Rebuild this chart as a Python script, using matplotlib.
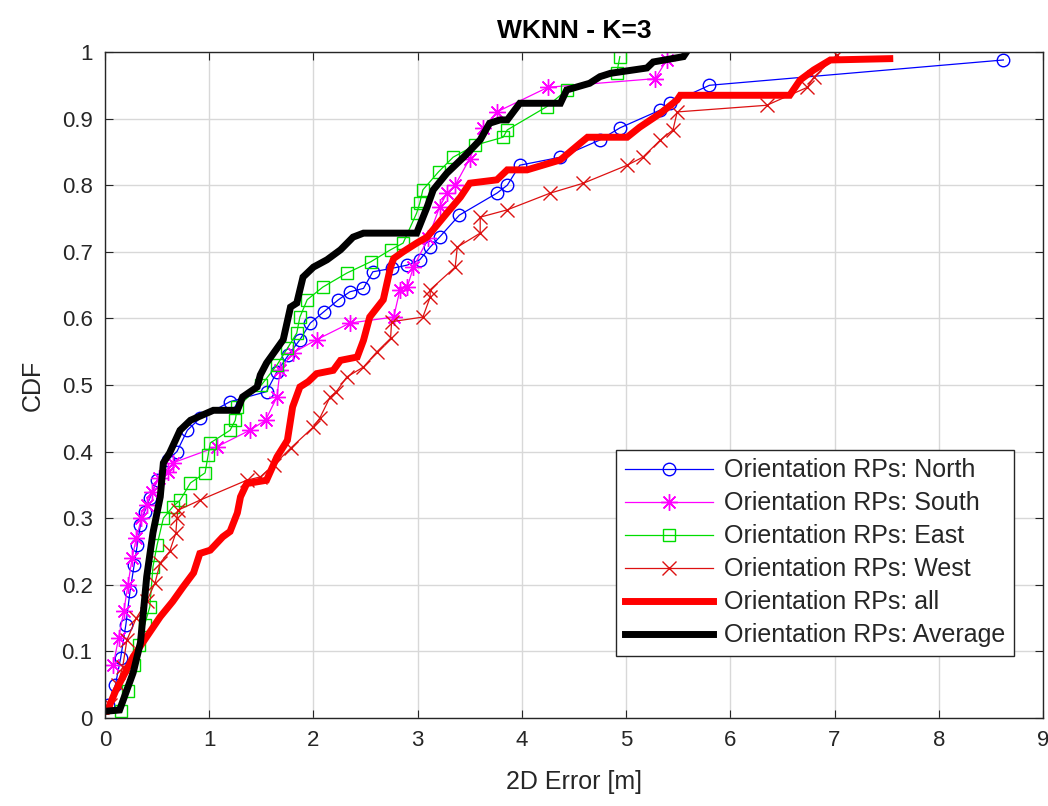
import matplotlib.pyplot as plt

plt.rcParams["font.family"] = ["Liberation Sans", "DejaVu Sans"]

# CDF points for each orientation (2D error in metres, cumulative probability)
north_x = [0.03, 0.10, 0.15, 0.20, 0.24, 0.28, 0.31, 0.34, 0.38, 0.43, 0.50, 0.60, 0.69, 0.79, 0.91,
           1.20, 1.55, 1.65, 1.76, 1.87, 1.97, 2.10, 2.24, 2.35, 2.48, 2.57, 2.75, 2.90, 3.02, 3.12,
           3.21, 3.40, 3.76, 3.86, 3.98, 4.37, 4.75, 4.94, 5.33, 5.42, 5.80, 8.62]
north_y = [0.02, 0.05, 0.09, 0.14, 0.19, 0.23, 0.26, 0.29, 0.31, 0.33, 0.357, 0.387, 0.40, 0.432, 0.45,
           0.475, 0.49, 0.52, 0.545, 0.568, 0.593, 0.61, 0.628, 0.64, 0.645, 0.67, 0.675, 0.68, 0.688, 0.707,
           0.722, 0.755, 0.788, 0.80, 0.83, 0.842, 0.868, 0.886, 0.913, 0.923, 0.95, 0.988]

south_x = [0.08, 0.13, 0.18, 0.22, 0.26, 0.30, 0.35, 0.40, 0.45, 0.52, 0.60, 0.65, 1.07, 1.39, 1.54,
           1.65, 1.68, 1.80, 2.03, 2.35, 2.77, 2.83, 2.90, 2.96, 3.10, 3.21, 3.28, 3.36, 3.50, 3.63,
           3.76, 4.25, 5.28, 5.39]
south_y = [0.08, 0.12, 0.16, 0.20, 0.24, 0.27, 0.30, 0.32, 0.34, 0.36, 0.37, 0.383, 0.407, 0.432, 0.447,
           0.482, 0.523, 0.548, 0.568, 0.593, 0.602, 0.643, 0.647, 0.677, 0.72, 0.767, 0.788, 0.80, 0.84, 0.886,
           0.91, 0.947, 0.96, 0.988]

east_x = [0.15, 0.22, 0.28, 0.33, 0.38, 0.43, 0.46, 0.50, 0.56, 0.65, 0.72, 0.82, 0.96, 0.99, 1.01,
          1.20, 1.25, 1.27, 1.50, 1.65, 1.75, 1.84, 1.87, 1.94, 2.09, 2.32, 2.55, 2.74, 2.86, 2.99,
          3.02, 3.05, 3.20, 3.34, 3.55, 3.82, 3.86, 4.24, 4.43, 4.91, 4.94]
east_y = [0.01, 0.04, 0.08, 0.11, 0.14, 0.167, 0.227, 0.26, 0.30, 0.317, 0.327, 0.353, 0.368, 0.395, 0.413,
          0.432, 0.447, 0.467, 0.50, 0.53, 0.555, 0.578, 0.602, 0.628, 0.647, 0.668, 0.685, 0.703, 0.713, 0.758,
          0.773, 0.793, 0.82, 0.842, 0.86, 0.872, 0.883, 0.918, 0.943, 0.968, 0.993]

west_x = [0.05, 0.12, 0.17, 0.21, 0.30, 0.40, 0.48, 0.53, 0.62, 0.68, 0.69, 0.70, 0.91, 1.36, 1.49,
          1.62, 1.78, 2.00, 2.06, 2.16, 2.22, 2.32, 2.48, 2.61, 2.74, 2.75, 3.05, 3.12, 3.12, 3.36,
          3.38, 3.60, 3.60, 3.86, 4.27, 4.59, 5.01, 5.16, 5.33, 5.45, 5.49, 6.35, 6.74, 6.80, 7.02]
west_y = [0.02, 0.05, 0.077, 0.117, 0.15, 0.175, 0.203, 0.233, 0.25, 0.278, 0.30, 0.312, 0.327, 0.357, 0.362,
          0.38, 0.405, 0.437, 0.45, 0.482, 0.49, 0.512, 0.527, 0.55, 0.57, 0.595, 0.602, 0.632, 0.643, 0.677,
          0.707, 0.728, 0.752, 0.763, 0.788, 0.803, 0.83, 0.842, 0.868, 0.883, 0.91, 0.92, 0.947, 0.962, 0.995]

all_x = [0.00, 0.02, 0.10, 0.20, 0.27, 0.40, 0.53, 0.65, 0.75, 0.85, 0.91, 1.01, 1.13, 1.20, 1.27,
         1.30, 1.36, 1.55, 1.65, 1.75, 1.80, 1.87, 1.95, 2.03, 2.19, 2.26, 2.42, 2.48, 2.54, 2.67,
         2.74, 2.77, 2.86, 2.99, 3.09, 3.28, 3.41, 3.50, 3.76, 3.86, 4.05, 4.37, 4.56, 4.63, 5.01,
         5.13, 5.33, 5.49, 5.52, 6.57, 6.67, 6.80, 6.96, 7.53]
all_y = [0.01, 0.01, 0.04, 0.07, 0.092, 0.122, 0.152, 0.175, 0.197, 0.218, 0.247, 0.252, 0.272, 0.28, 0.308,
         0.332, 0.352, 0.357, 0.392, 0.417, 0.467, 0.497, 0.505, 0.517, 0.522, 0.537, 0.542, 0.567, 0.602, 0.628,
         0.677, 0.69, 0.70, 0.713, 0.722, 0.758, 0.782, 0.803, 0.808, 0.823, 0.823, 0.838, 0.863, 0.872, 0.872,
         0.887, 0.908, 0.928, 0.935, 0.935, 0.958, 0.973, 0.988, 0.99]

avg_x = [0.00, 0.14, 0.27, 0.34, 0.37, 0.40, 0.46, 0.53, 0.56, 0.62, 0.72, 0.82, 1.04, 1.27, 1.32,
         1.46, 1.49, 1.55, 1.71, 1.78, 1.84, 1.90, 2.00, 2.13, 2.26, 2.38, 2.48, 2.99, 3.09, 3.15,
         3.28, 3.44, 3.60, 3.69, 3.79, 3.86, 3.98, 4.37, 4.43, 4.65, 4.75, 4.85, 5.20, 5.26, 5.55, 5.58]
avg_y = [0.01, 0.012, 0.068, 0.113, 0.162, 0.212, 0.278, 0.332, 0.383, 0.398, 0.432, 0.447, 0.462, 0.462, 0.482,
         0.497, 0.515, 0.533, 0.568, 0.617, 0.623, 0.662, 0.677, 0.688, 0.703, 0.722, 0.728, 0.728, 0.767, 0.793,
         0.818, 0.842, 0.868, 0.893, 0.898, 0.898, 0.923, 0.923, 0.943, 0.953, 0.963, 0.968, 0.976, 0.985, 0.993, 1.0]

x_ticks = list(range(0, 10))
y_ticks = [0, 0.1, 0.2, 0.3, 0.4, 0.5, 0.6, 0.7, 0.8, 0.9, 1]
y_tick_labels = ["0", "0.1", "0.2", "0.3", "0.4", "0.5", "0.6", "0.7", "0.8", "0.9", "1"]

axis_grey = "#262626"

fig = plt.figure(figsize=(10.48, 8.06), dpi=100)
ax = fig.add_axes([0.1002, 0.1092, 0.895, 0.8263])

# MATLAB-style asterisk: 8-armed star
asterisk = (8, 2, 0)

ax.plot(north_x, north_y, color="#0000ff", lw=0.9, marker="o", ms=9, mfc="none", mew=1.0,
        label="Orientation RPs: North")
ax.plot(south_x, south_y, color="#ff00ff", lw=0.9, marker=asterisk, ms=12, mew=1.0,
        label="Orientation RPs: South")
ax.plot(east_x, east_y, color="#00dd00", lw=0.9, marker="s", ms=8, mfc="none", mew=1.0,
        label="Orientation RPs: East")
ax.plot(west_x, west_y, color="#dd1111", lw=0.9, marker="x", ms=10, mew=1.0,
        label="Orientation RPs: West")
ax.plot(all_x, all_y, color="#ff0000", lw=5, solid_joinstyle="miter",
        label="Orientation RPs: all")
ax.plot(avg_x, avg_y, color="black", lw=5, solid_joinstyle="miter",
        label="Orientation RPs: Average")

ax.set_xlim(0, 9)
ax.set_ylim(0, 1)
ax.set_xticks(x_ticks)
ax.set_yticks(y_ticks)
ax.set_yticklabels(y_tick_labels)
ax.tick_params(direction="in", top=True, right=True, labelsize=16, length=6,
               colors=axis_grey, labelcolor=axis_grey)
ax.tick_params(axis="x", pad=9)
ax.tick_params(axis="y", pad=9)
ax.grid(True, color="#d8d8d8", lw=1.0)
ax.set_axisbelow(True)
for sp in ax.spines.values():
    sp.set_linewidth(1.0)
    sp.set_color(axis_grey)

ax.set_title("WKNN - K=3", fontsize=19, fontweight="bold", pad=10)
ax.set_xlabel("2D Error [m]", fontsize=18, labelpad=13, color=axis_grey)
ax.set_ylabel("CDF", fontsize=18, labelpad=12, color=axis_grey)

leg = ax.legend(loc="lower right", bbox_to_anchor=(0.969, 0.093), fontsize=18, frameon=True,
                fancybox=False, edgecolor=axis_grey, framealpha=1, handlelength=3.5,
                borderpad=0.35, labelspacing=0.36, handletextpad=0.45, borderaxespad=0)
leg.get_frame().set_linewidth(1.0)
for txt in leg.get_texts():
    txt.set_color(axis_grey)

fig.savefig("out.png", dpi=100)
